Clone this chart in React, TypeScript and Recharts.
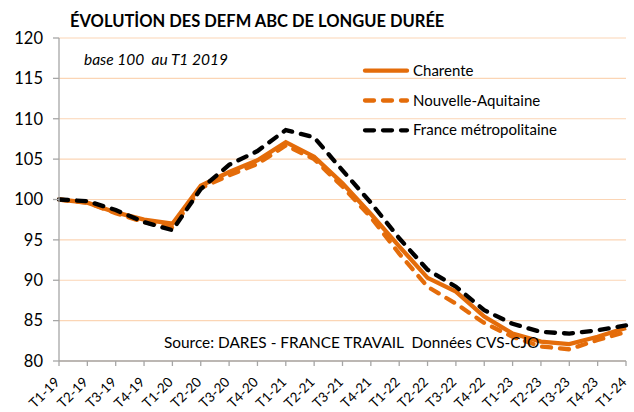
import React from 'react';
import { LineChart, Line, XAxis, YAxis, CartesianGrid, Legend } from 'recharts';

const quarters = ['T1-19', 'T2-19', 'T3-19', 'T4-19', 'T1-20', 'T2-20', 'T3-20', 'T4-20', 'T1-21', 'T2-21', 'T3-21', 'T4-21', 'T1-22', 'T2-22', 'T3-22', 'T4-22', 'T1-23', 'T2-23', 'T3-23', 'T4-23', 'T1-24'];
const charente = [100, 99.6, 98.4, 97.5, 97.0, 101.7, 103.4, 104.85, 107.1, 105.3, 102.0, 98.2, 94.2, 90.3, 88.6, 85.5, 83.4, 82.4, 82.1, 83.0, 84.1];
const nouvelleAquitaine = [100, 99.6, 98.3, 97.2, 96.5, 101.4, 103.0, 104.4, 106.7, 105.0, 101.6, 97.8, 93.3, 89.2, 87.1, 84.7, 83.0, 81.8, 81.45, 82.6, 83.6];
const franceMetro = [100, 99.8, 98.7, 97.2, 96.2, 101.3, 104.3, 106.0, 108.6, 107.7, 103.6, 99.6, 95.2, 91.3, 89.2, 86.3, 84.6, 83.6, 83.4, 83.8, 84.4];
const yTicks = [80, 85, 90, 95, 100, 105, 110, 115, 120];
const seriesNames = ['Charente', 'Nouvelle-Aquitaine', 'France métropolitaine'];

const title = 'ÉVOLUTİON DES DEFM ABC DE LONGUE DURÉE';
const subtitle = 'base 100  au T1 2019';
const sourceText = 'Source: DARES - FRANCE TRAVAIL  Données CVS-CJO';

const data = quarters.map((q, i) => ({
  q,
  charente: charente[i],
  na: nouvelleAquitaine[i],
  fr: franceMetro[i],
}));

const FONT = 'Lato, "Open Sans", sans-serif';
const ORANGE = '#E46C0A';
const DASH = '9 9';

const XTick = (props: any) => {
  const { x, y, payload } = props;
  const ax = x + 1.5;
  const ay = y + 17;
  return (
    <text
      x={ax}
      y={ay}
      textAnchor="end"
      fontSize={13.5}
      fontFamily={FONT}
      fill="#000"
      transform={`rotate(-45, ${ax}, ${ay})`}
    >
      {payload.value}
    </text>
  );
};

const legendItems = [
  { name: seriesNames[0], color: ORANGE, dash: undefined },
  { name: seriesNames[1], color: ORANGE, dash: DASH },
  { name: seriesNames[2], color: '#000', dash: DASH },
];

const LegendContent = () => (
  <svg width={270} height={95} style={{ display: 'block' }}>
    {legendItems.map((it, i) => {
      const cy = 15.7 + i * 29.8;
      return (
        <g key={it.name}>
          <line
            x1={7}
            x2={49}
            y1={cy}
            y2={cy}
            stroke={it.color}
            strokeWidth={4.3}
            strokeDasharray={it.dash}
            strokeLinecap="round"
          />
          <text x={55} y={cy + 5} fontSize={15} fontFamily={FONT} fill="#000">
            {it.name}
          </text>
        </g>
      );
    })}
  </svg>
);

const preStyle = { whiteSpace: 'pre' as const };

export default function App() {
  return (
    <div style={{ position: 'absolute', left: 0, top: 0, width: 634, height: 412, background: '#fff' }}>
      <LineChart width={634} height={412} data={data} margin={{ top: 38, right: 8, bottom: 0, left: 0 }}>
        <CartesianGrid vertical={false} stroke="#FBD5B5" strokeWidth={1.2} />
        <XAxis
          dataKey="q"
          interval={0}
          height={51}
          tickSize={5}
          tickMargin={0}
          axisLine={{ stroke: '#A6A6A6', strokeWidth: 1.3 }}
          tickLine={{ stroke: '#A6A6A6', strokeWidth: 1.3 }}
          tick={<XTick />}
        />
        <YAxis
          domain={[80, 120]}
          ticks={yTicks}
          interval={0}
          width={59}
          tickSize={6}
          tickMargin={10}
          axisLine={{ stroke: '#A6A6A6', strokeWidth: 1.3 }}
          tickLine={{ stroke: '#A6A6A6', strokeWidth: 1.3 }}
          tick={{ fontSize: 16.5, fontFamily: FONT, fill: '#000' }}
        />
        <Legend
          layout="vertical"
          align="center"
          verticalAlign="middle"
          content={<LegendContent />}
          wrapperStyle={{ position: 'absolute', left: 358, top: 55, width: 270, height: 95 }}
        />
        <Line type="linear" dataKey="charente" name={seriesNames[0]} stroke={ORANGE} strokeWidth={4.3} dot={false} activeDot={false} isAnimationActive={false} />
        <Line type="linear" dataKey="na" name={seriesNames[1]} stroke={ORANGE} strokeWidth={4.3} strokeDasharray={DASH} strokeLinecap="round" dot={false} activeDot={false} isAnimationActive={false} />
        <Line type="linear" dataKey="fr" name={seriesNames[2]} stroke="#000" strokeWidth={4.3} strokeDasharray={DASH} strokeLinecap="round" dot={false} activeDot={false} isAnimationActive={false} />
      </LineChart>
      <svg width={634} height={412} style={{ position: 'absolute', left: 0, top: 0, pointerEvents: 'none' }}>
        <text x={70} y={27} fontSize={16.5} fontWeight="bold" fontFamily={FONT} fill="#000" style={preStyle}>
          {title}
        </text>
        <text x={84} y={65} fontSize={15.5} fontStyle="italic" fontFamily={FONT} fill="#000" xmlSpace="preserve" style={preStyle}>
          {subtitle}
        </text>
        <text x={164} y={348} fontSize={15.4} fontFamily={FONT} fill="#000" xmlSpace="preserve" style={preStyle}>
          {sourceText}
        </text>
      </svg>
    </div>
  );
}
